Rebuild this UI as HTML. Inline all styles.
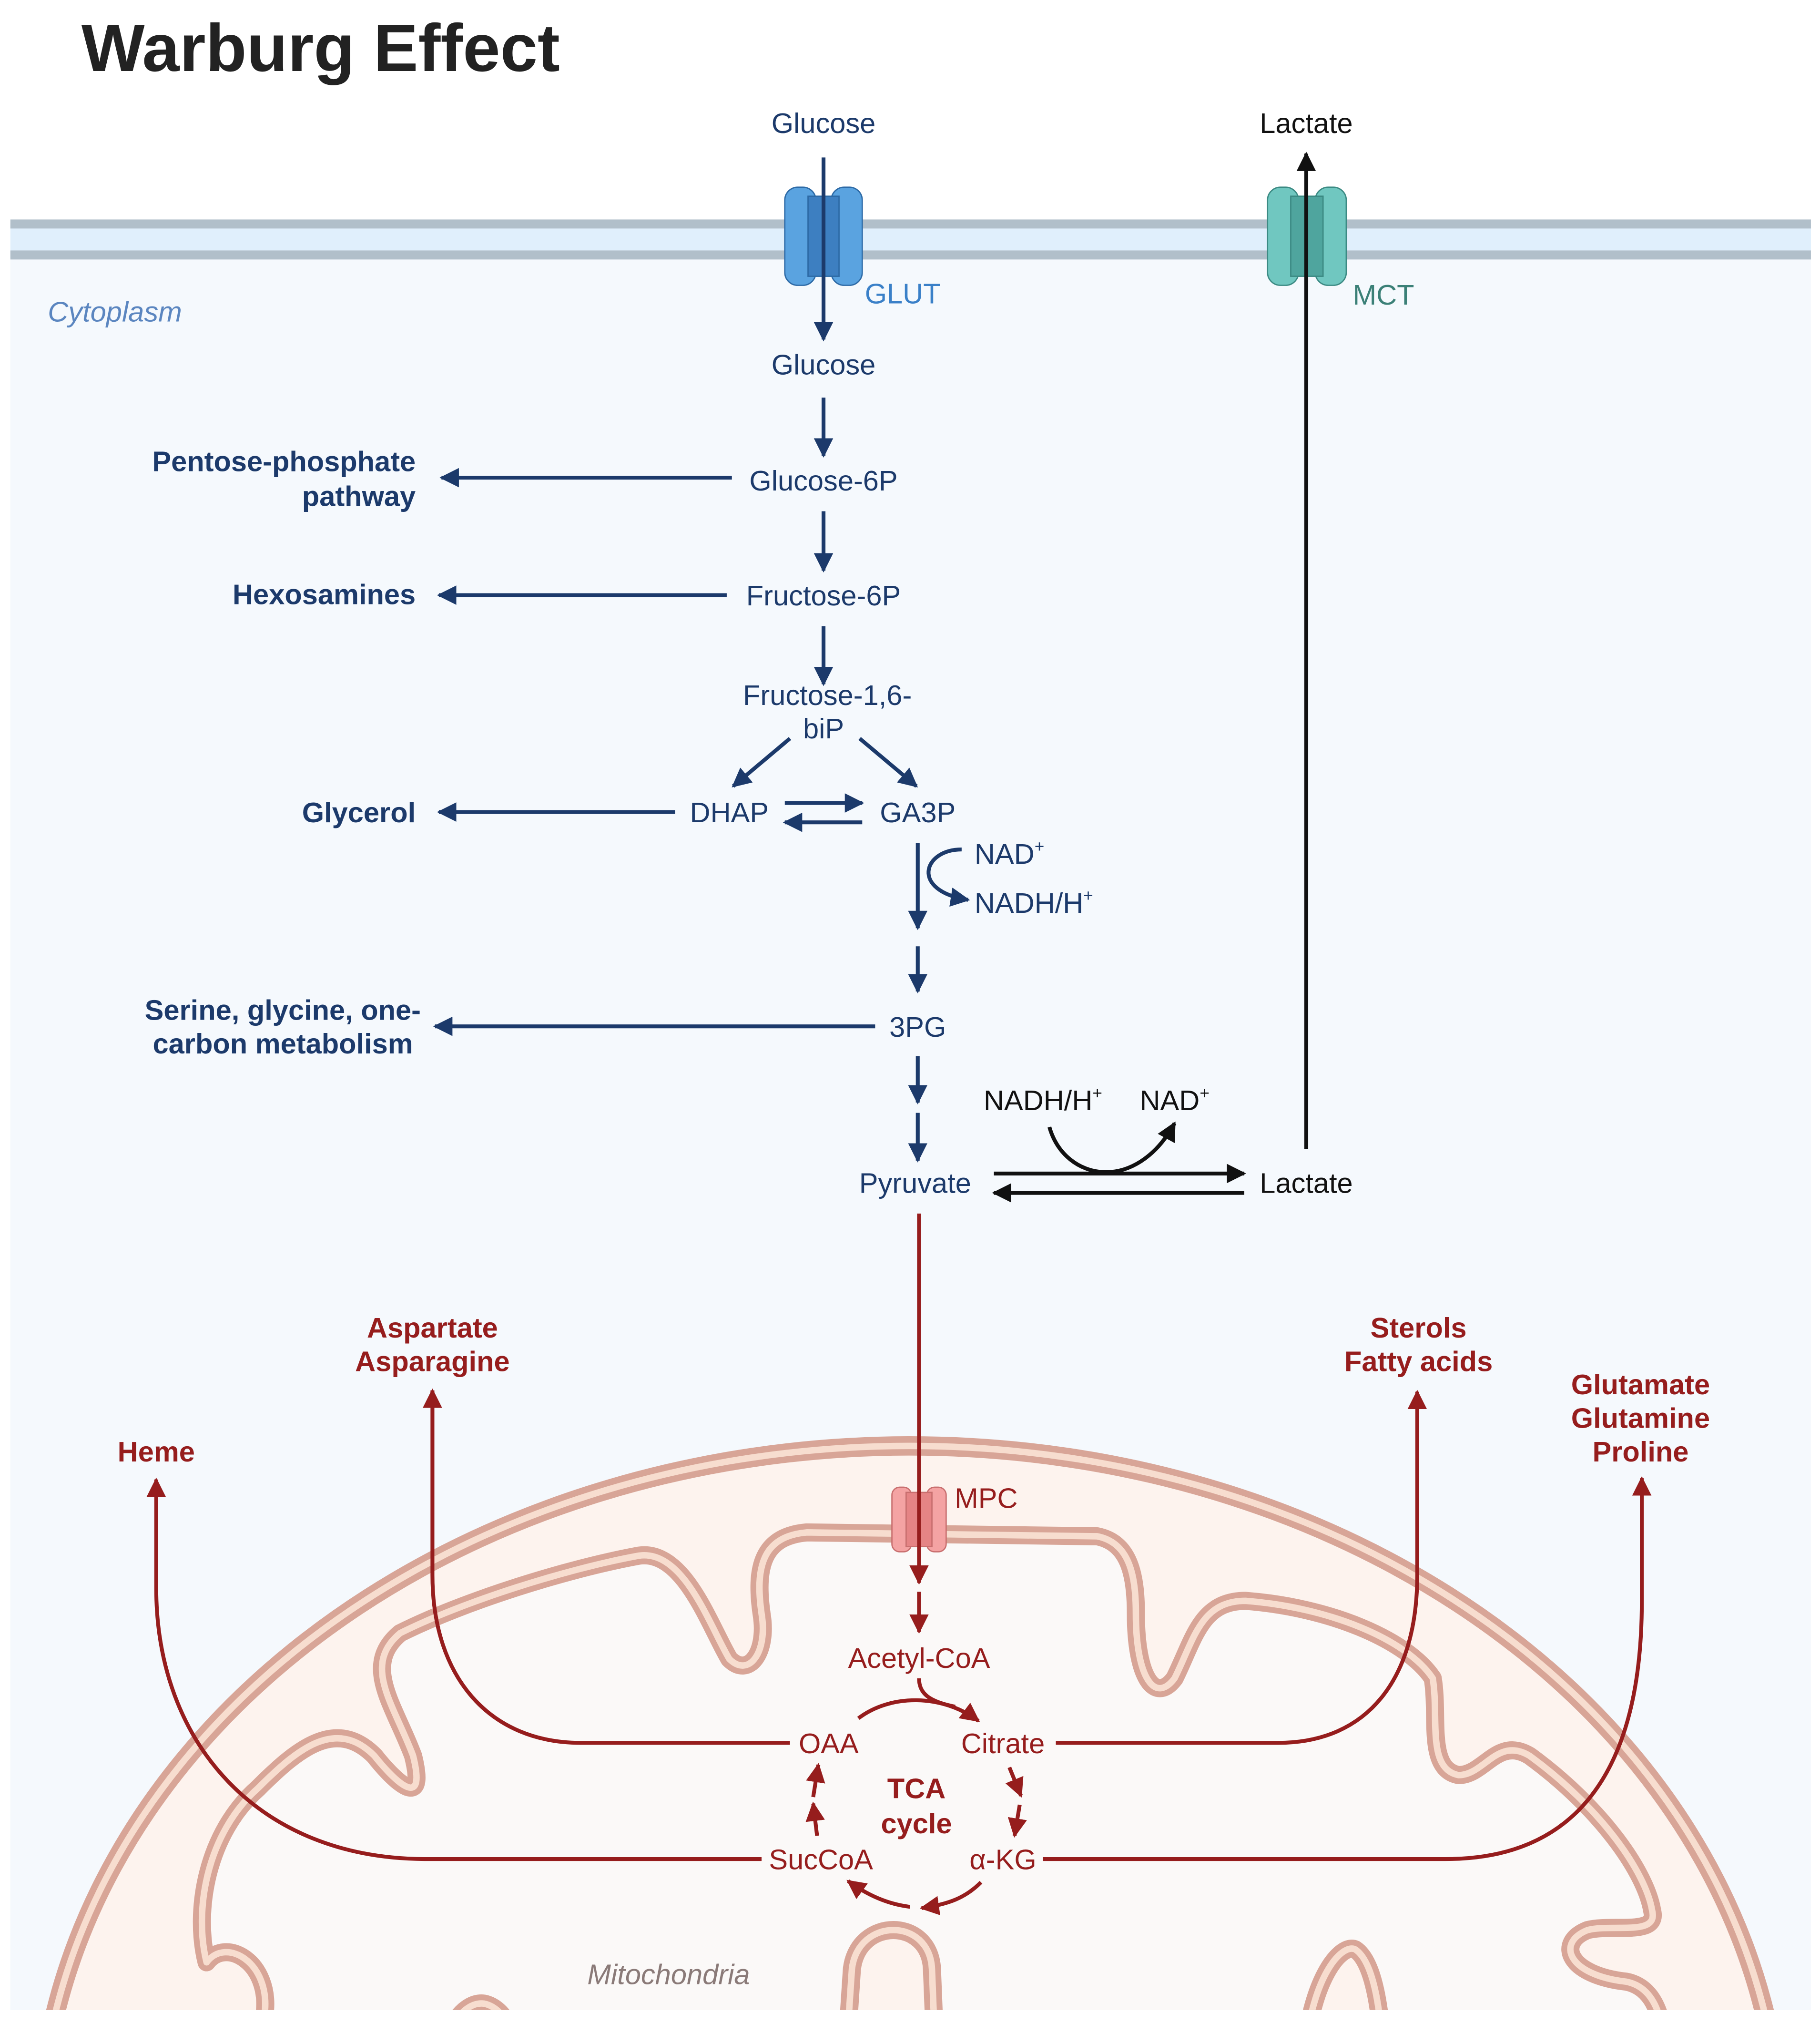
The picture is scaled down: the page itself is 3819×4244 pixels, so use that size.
<!DOCTYPE html>
<html><head><meta charset="utf-8"><style>
html,body{margin:0;padding:0;background:#fff;width:3819px;height:4244px;overflow:hidden}
svg{display:block}
text{font-family:"Liberation Sans",sans-serif}
</style></head><body>
<svg width="3819" height="4244" viewBox="0 0 1410 1567" xmlns="http://www.w3.org/2000/svg">
<defs>
<marker id="an" viewBox="0 0 10 10" refX="9" refY="5" markerWidth="5" markerHeight="5" orient="auto-start-reverse"><path d="M0,0L10,5L0,10z" fill="#1c3a6b"/></marker>
<marker id="ab" viewBox="0 0 10 10" refX="9" refY="5" markerWidth="5" markerHeight="5" orient="auto-start-reverse"><path d="M0,0L10,5L0,10z" fill="#111"/></marker>
<marker id="ar" viewBox="0 0 10 10" refX="9" refY="5" markerWidth="5" markerHeight="5" orient="auto-start-reverse"><path d="M0,0L10,5L0,10z" fill="#961d1d"/></marker>
<clipPath id="cell"><rect x="8" y="200" width="1395" height="1357"/></clipPath>
</defs>
<rect width="1410" height="1567" fill="#fff"/>
<rect x="8" y="197" width="1395" height="1360" fill="#f5f9fd"/>
<rect x="8" y="173" width="1395" height="27" fill="#e0effc"/>
<rect x="8" y="170" width="1395" height="7" fill="#b1bfca"/>
<rect x="8" y="194" width="1395" height="7" fill="#b1bfca"/>
<g clip-path="url(#cell)">
<ellipse cx="705" cy="1665" rx="675" ry="545" fill="#fdf3ee" stroke="#d8a597" stroke-width="15"/>
<ellipse cx="705" cy="1665" rx="675" ry="545" fill="none" stroke="#f7ddcf" stroke-width="5"/>
<path d="M200,1600 L205,1560 C210,1520 175,1500 160,1520 C150,1480 160,1420 200,1385 C230,1355 260,1330 290,1360 C310,1385 330,1400 320,1360 C305,1320 280,1290 310,1265 C360,1240 440,1215 495,1205 C530,1200 550,1260 565,1285 C580,1300 595,1280 590,1250 C585,1215 590,1190 625,1187 L850,1190 C875,1195 880,1220 880,1250 C880,1300 895,1320 910,1300 C925,1270 930,1240 965,1240 C1030,1245 1090,1270 1110,1300 C1115,1330 1105,1370 1130,1375 C1150,1375 1160,1345 1185,1360 C1240,1400 1275,1450 1280,1480 C1285,1500 1250,1490 1230,1495 C1205,1505 1215,1530 1260,1535 C1285,1540 1290,1570 1290,1600 Z" fill="#fbf9f8" stroke="#d8a597" stroke-width="14" stroke-linejoin="round"/>
<path d="M200,1600 L205,1560 C210,1520 175,1500 160,1520 C150,1480 160,1420 200,1385 C230,1355 260,1330 290,1360 C310,1385 330,1400 320,1360 C305,1320 280,1290 310,1265 C360,1240 440,1215 495,1205 C530,1200 550,1260 565,1285 C580,1300 595,1280 590,1250 C585,1215 590,1190 625,1187 L850,1190 C875,1195 880,1220 880,1250 C880,1300 895,1320 910,1300 C925,1270 930,1240 965,1240 C1030,1245 1090,1270 1110,1300 C1115,1330 1105,1370 1130,1375 C1150,1375 1160,1345 1185,1360 C1240,1400 1275,1450 1280,1480 C1285,1500 1250,1490 1230,1495 C1205,1505 1215,1530 1260,1535 C1285,1540 1290,1570 1290,1600" fill="none" stroke="#f7ddcf" stroke-width="5" stroke-linejoin="round"/>
<g fill="#fdf3ee" stroke="#d8a597" stroke-width="14">
<path d="M655,1600 L660,1525 C665,1485 720,1485 722,1525 L725,1600"/>
<path d="M1010,1600 C1015,1530 1040,1505 1050,1510 C1065,1520 1070,1560 1072,1600"/>
<path d="M340,1600 C345,1570 360,1550 375,1552 C390,1555 400,1575 405,1600"/>
</g>
<g fill="none" stroke="#f7ddcf" stroke-width="5">
<path d="M655,1600 L660,1525 C665,1485 720,1485 722,1525 L725,1600"/>
<path d="M1010,1600 C1015,1530 1040,1505 1050,1510 C1065,1520 1070,1560 1072,1600"/>
<path d="M340,1600 C345,1570 360,1550 375,1552 C390,1555 400,1575 405,1600"/>
</g>
</g>
<text x="63" y="55" font-size="52" font-weight="bold" fill="#222">Warburg Effect</text>

<g stroke="#2d6aa6" stroke-width="1">
<rect x="608" y="145" width="24" height="76" rx="10" fill="#5aa3e0"/>
<rect x="644" y="145" width="24" height="76" rx="10" fill="#5aa3e0"/>
<rect x="626" y="152" width="24" height="62" fill="#3d7fc1"/>
</g>
<g stroke="#3b8a83" stroke-width="1">
<rect x="982" y="145" width="24" height="76" rx="10" fill="#70c7c0"/>
<rect x="1019" y="145" width="24" height="76" rx="10" fill="#70c7c0"/>
<rect x="1000" y="152" width="25" height="62" fill="#4fa59e"/>
</g>
<g stroke="#c86e6e" stroke-width="1">
<rect x="691" y="1152" width="15" height="50" rx="6" fill="#f4a3a3"/>
<rect x="718" y="1152" width="15" height="50" rx="6" fill="#f4a3a3"/>
<rect x="702" y="1156" width="20" height="42" fill="#e58485"/>
</g>

<g stroke="#1c3a6b" stroke-width="3" fill="none" marker-end="url(#an)">
<line x1="638" y1="122" x2="638" y2="263"/>
<line x1="638" y1="308" x2="638" y2="353"/>
<line x1="638" y1="396" x2="638" y2="442"/>
<line x1="638" y1="485" x2="638" y2="530"/>
<line x1="567" y1="370" x2="342" y2="370"/>
<line x1="563" y1="461" x2="340" y2="461"/>
<line x1="523" y1="629" x2="340" y2="629"/>
<line x1="678" y1="795" x2="337" y2="795"/>
<line x1="612" y1="572" x2="568" y2="609"/>
<line x1="666" y1="572" x2="710" y2="609"/>
<line x1="608" y1="622" x2="668" y2="622"/>
<line x1="668" y1="637" x2="608" y2="637"/>
<line x1="711" y1="653" x2="711" y2="719"/>
<path d="M745,658 C715,658 705,690 750,697"/>
<line x1="711" y1="733" x2="711" y2="768"/>
<line x1="711" y1="818" x2="711" y2="854"/>
<line x1="711" y1="862" x2="711" y2="899"/>
</g>
<g stroke="#111" stroke-width="3" fill="none" marker-end="url(#ab)">
<line x1="1012" y1="890" x2="1012" y2="119"/>
<line x1="770" y1="909" x2="964" y2="909"/>
<line x1="964" y1="924" x2="770" y2="924"/>
<path d="M813,873 C825,915 880,925 910,870"/>
</g>
<g stroke="#961d1d" stroke-width="3" fill="none" marker-end="url(#ar)">
<line x1="712" y1="940" x2="712" y2="1226"/>
<line x1="712" y1="1233" x2="712" y2="1264"/>
<path d="M665,1331 C690,1312 730,1312 758,1333"/>
<line x1="782" y1="1369" x2="791" y2="1391"/>
<line x1="790" y1="1398" x2="786" y2="1422"/>
<path d="M760,1458 C748,1470 735,1475 714,1478"/>
<path d="M705,1477 C688,1475 672,1468 657,1457"/>
<line x1="633" y1="1422" x2="630" y2="1397"/>
<line x1="630" y1="1392" x2="634" y2="1367"/>
<path d="M612,1350 L450,1350 C380,1350 335,1300 335,1220 L335,1077"/>
<path d="M590,1440 L330,1440 C200,1440 121,1350 121,1230 L121,1146"/>
<path d="M818,1350 L990,1350 C1060,1350 1098,1300 1098,1220 L1098,1078"/>
<path d="M808,1440 L1120,1440 C1230,1440 1272,1360 1272,1240 L1272,1145"/>
</g>
<path d="M712,1300 C712,1312 720,1318 740,1322" stroke="#961d1d" stroke-width="3" fill="none"/>

<g fill="#1c3a6b" font-size="22" text-anchor="middle">
<text x="638" y="103">Glucose</text>
<text x="638" y="290">Glucose</text>
<text x="638" y="380">Glucose-6P</text>
<text x="638" y="469">Fructose-6P</text>
<text x="641" y="546">Fructose-1,6-</text>
<text x="638" y="572">biP</text>
<text x="565" y="637">DHAP</text>
<text x="711" y="637">GA3P</text>
<text x="711" y="803">3PG</text>
<text x="709" y="924">Pyruvate</text>
<text x="755" y="669" text-anchor="start">NAD<tspan font-size="13" dy="-9">+</tspan></text>
<text x="755" y="707" text-anchor="start">NADH/H<tspan font-size="13" dy="-9">+</tspan></text>
</g>
<g fill="#1c3a6b" font-size="22" font-weight="bold" text-anchor="end">
<text x="322" y="365">Pentose-phosphate</text>
<text x="322" y="392">pathway</text>
<text x="322" y="468">Hexosamines</text>
<text x="322" y="637">Glycerol</text>
<text x="326" y="790">Serine, glycine, one-</text>
<text x="320" y="816">carbon metabolism</text>
</g>
<g fill="#111" font-size="22" text-anchor="middle">
<text x="1012" y="103">Lactate</text>
<text x="1012" y="924">Lactate</text>
<text x="808" y="860">NADH/H<tspan font-size="13" dy="-9">+</tspan></text>
<text x="910" y="860">NAD<tspan font-size="13" dy="-9">+</tspan></text>
</g>
<text x="670" y="235" font-size="22" fill="#3a80c8">GLUT</text>
<text x="1048" y="236" font-size="22" fill="#3b8077">MCT</text>
<text x="37" y="249" font-size="22" font-style="italic" fill="#5b86c0">Cytoplasm</text>
<text x="455" y="1537" font-size="22" font-style="italic" fill="#8a7a78">Mitochondria</text>

<g fill="#961d1d" font-size="22" text-anchor="middle">
<text x="712" y="1292">Acetyl-CoA</text>
<text x="642" y="1358">OAA</text>
<text x="777" y="1358">Citrate</text>
<text x="636" y="1448">SucCoA</text>
<text x="777" y="1448">α-KG</text>
<text x="764" y="1168">MPC</text>
</g>
<g fill="#961d1d" font-size="22" font-weight="bold" text-anchor="middle">
<text x="710" y="1393">TCA</text>
<text x="710" y="1420">cycle</text>
<text x="335" y="1036">Aspartate</text>
<text x="335" y="1062">Asparagine</text>
<text x="121" y="1132">Heme</text>
<text x="1099" y="1036">Sterols</text>
<text x="1099" y="1062">Fatty acids</text>
<text x="1271" y="1080">Glutamate</text>
<text x="1271" y="1106">Glutamine</text>
<text x="1271" y="1132">Proline</text>
</g>
</svg>
</body></html>
